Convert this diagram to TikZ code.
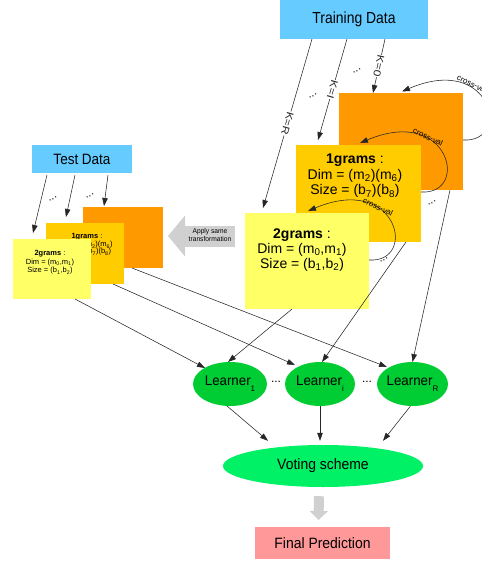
\documentclass[tikz,border=0pt]{standalone}
\usepackage{fontspec}
\setmainfont{Liberation Sans}
\usepackage{graphicx}
\usetikzlibrary{arrows.meta,shapes.geometric,calc}
\definecolor{tdblue}{HTML}{66CCFF}
\definecolor{boxorange}{HTML}{FF9900}
\definecolor{boxgold}{HTML}{FFCC00}
\definecolor{boxyellow}{HTML}{FFFF66}
\definecolor{learngreen}{HTML}{00CC33}
\definecolor{votegreen}{HTML}{00F066}
\definecolor{finalpink}{HTML}{FF9999}
\definecolor{arrowgray}{HTML}{D0D0D0}
\newcommand\fs[2]{\fontsize{#1}{#2}\selectfont}
\newcommand\hsq[2]{\scalebox{#1}[1]{#2}}
\newcommand\lrn[1]{\makebox[0pt]{\fs{14}{14}\hsq{0.95}{Learner}\raisebox{-6pt}{\fs{8}{8}#1}}}
\begin{document}
\begin{tikzpicture}[x=1pt,y=-1pt,
  card/.style={rectangle, draw=none, inner sep=0pt, outer sep=0pt},
  arr/.style={-{Triangle[length=8pt,width=5.5pt]}, line width=0.55pt, black!85},
  learner/.style={ellipse, fill=learngreen, inner sep=0pt, outer sep=0pt, minimum height=44pt},
  dotsl/.style={font=\fs{11}{11}, inner sep=0pt, rotate=25},
  cv/.style={font=\fs{8}{8}, inner sep=0.5pt, rotate=-25},
  klab/.style={font=\fs{10}{10}, fill=white, inner sep=0.6pt, sloped, allow upside down, pos=0.5},
  txt/.style={align=center, inner sep=0pt},
]
\useasboundingbox (0,0) rectangle (482,563);
\clip (0,0) rectangle (482,563);

% data sources
\node[card, fill=tdblue, minimum width=148pt, minimum height=39pt] (train) at (354,19.5) {\fs{16}{16}\hsq{0.87}{Training Data}};
\node[card, fill=tdblue, minimum width=100pt, minimum height=28pt] (test) at (82,159) {\fs{15}{15}\hsq{0.9}{Test Data}};

% training boxes
\node[card, fill=boxorange, minimum width=124pt, minimum height=97pt] (tr0) at (401,141.5) {};
\node[card, fill=boxgold, minimum width=125pt, minimum height=97pt] (tr1) at (358.5,193.5) {};
\node[txt, font=\fs{14}{15.5}] (tr1txt) at (355,176) {\textbf{1grams} :\\Dim = (m\textsubscript{2})(m\textsubscript{6})\\Size = (b\textsubscript{7})(b\textsubscript{8})};
\node[card, fill=boxyellow, minimum width=124pt, minimum height=96pt] (tr2) at (307,261) {};
\node[txt, font=\fs{14}{15}] (tr2txt) at (302,250) {\textbf{2grams} :\\Dim = (m\textsubscript{0},m\textsubscript{1})\\Size = (b\textsubscript{1},b\textsubscript{2})};

% test boxes
\node[card, fill=boxorange, minimum width=80pt, minimum height=61pt] (ts0) at (123,237.5) {};
\node[card, fill=boxgold, minimum width=78pt, minimum height=61pt] (ts1) at (85,253.5) {};
\node[txt, font=\fs{7.5}{7}] (ts1txt) at (87,244.5) {\textbf{1grams} :\\Dim = (m\textsubscript{2})(m\textsubscript{6})\\Size = (b\textsubscript{7})(b\textsubscript{8})};
\node[card, fill=boxyellow, minimum width=78pt, minimum height=60pt] (ts2) at (52,269) {};
\node[txt, font=\fs{7.5}{8.5}] (ts2txt) at (50,262.5) {\textbf{2grams} :\\Dim = (m\textsubscript{0},m\textsubscript{1})\\Size = (b\textsubscript{1},b\textsubscript{2})};

% apply same transformation
\draw[arrowgray, line width=21pt, -{Triangle[length=17pt,width=40pt]}] (235,236) -- (168,236);
\node[txt, font=\fs{7}{8}] (apply) at (210,235) {\hsq{0.95}{Apply same}\\\hsq{0.95}{transformation}};

% learners, voting, final
\node[learner, minimum width=74pt] (L1) at (230,384) {\lrn{1}};
\node[learner, minimum width=70pt] (Li) at (320,384) {\lrn{i}};
\node[learner, minimum width=71pt] (LR) at (412.5,384) {\lrn{R}};
\node[font=\fs{12}{12}, inner sep=0pt] (d1) at (276,382) {...};
\node[font=\fs{12}{12}, inner sep=0pt] (d2) at (367,382) {...};
\node[ellipse, fill=votegreen, minimum width=200pt, minimum height=42pt, inner sep=0pt] (vote) at (323,466) {\fs{15}{15}\hsq{0.93}{Voting scheme}};
\node[card, fill=finalpink, minimum width=135pt, minimum height=32pt] (final) at (322.5,543) {\fs{15}{15}\hsq{0.93}{Final Prediction}};
\draw[arrowgray, line width=10pt, -{Triangle[length=9pt,width=18pt]}] ($(vote.south)+(-4,9)$) -- ($(final.north)+(-4,-7)$);

% training data arrows
\draw[arr] ($(train.south)+(31,0)$) -- node[klab]{\hsq{1.2}{K=0}} ($(tr0.north)+(-28,0)$);
\draw[arr] ($(train.south)+(-7,0)$) -- node[klab]{\hsq{1.2}{K=I}} ($(tr1.north)+(-40.5,-5)$);
\draw[arr] ($(train.south)+(-42,0)$) -- node[klab]{\hsq{1.2}{K=R}} ($(tr2.north)+(-44,-5)$);
\node[dotsl] (k1) at (313,96) {...};
\node[dotsl] (k2) at (357,71) {...};

% test data arrows
\draw[arr] ($(test.south)+(-35,2)$) -- ($(ts2.north)+(-19,-6)$);
\draw[arr] ($(test.south)+(-7,2)$) -- ($(ts1.north)+(-19,-6)$);
\draw[arr] ($(test.south)+(26,2)$) -- ($(ts0.north)+(-19,-1)$);
\node[dotsl] (t1) at (53,199) {...};
\node[dotsl] (t2) at (90,196) {...};

% cross-validation loops
\draw[arr] ($(tr0.east)+(0,-1.5)$) .. controls (512,143) and (492,53) .. ($(tr0.north)+(1,-1.5)$);
\node[cv] (cv0) at (472,84) {cross-val};
\draw[arr] ($(tr1.east)+(0,-1.5)$) .. controls (470,195) and (450,105) .. ($(tr1.north)+(1.5,-2)$);
\node[cv] (cv1) at (428,137) {cross-val};
\draw[arr] ($(tr2.east)+(0,-1)$) .. controls (418,263) and (398,173) .. ($(tr2.north)+(1,-2)$);
\node[cv] (cv2) at (378,207) {cross-val};
\node[dotsl] (c1) at (432,203) {...};
\node[dotsl] (c2) at (384,260) {...};

% boxes to learners
\draw[arr] ($(tr2.south)+(-15,0)$) -- ($(L1.north)+(-2,0)$);
\draw[arr] ($(tr1.south)+(47.5,0)$) -- ($(Li.north)+(2,0)$);
\draw[arr] ($(tr0.south)+(49,0)$) -- (LR.north);
\draw[arr] ($(ts2.south)+(23,0)$) -- ($(L1.center)+(-25,-16)$);
\draw[arr] ($(ts1.south)+(28,0)$) -- ($(Li.center)+(-25,-19)$);
\draw[arr] ($(ts0.south)+(9,0)$) -- ($(LR.center)+(-25.5,-17)$);

% learners to voting
\draw[arr] ($(L1.south)+(-3,0)$) -- ($(vote.north)+(-55,-4)$);
\draw[arr] (Li.south) -- ($(vote.north)+(-3,-4)$);
\draw[arr] ($(LR.south)+(-2,0)$) -- ($(vote.north)+(60,-4)$);
\end{tikzpicture}
\end{document}
